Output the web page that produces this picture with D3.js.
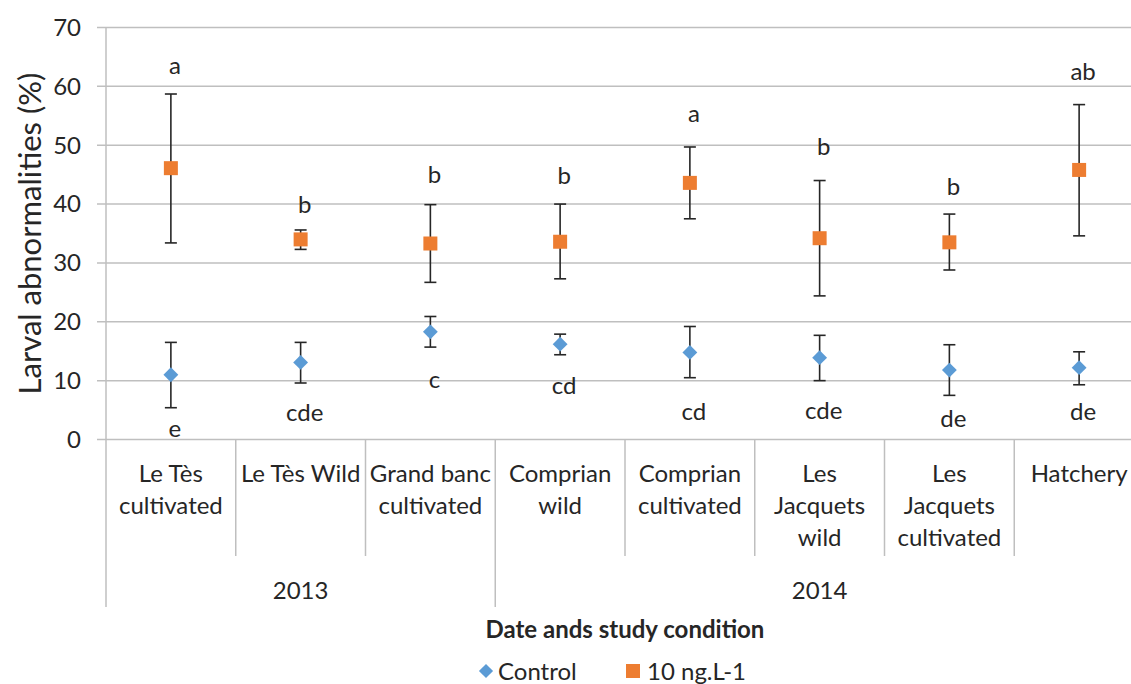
<!DOCTYPE html>
<html>
<head>
<meta charset="utf-8">
<script src="https://cdn.jsdelivr.net/npm/d3@7"></script>
<style>
  body { margin: 0; background: #fff; }
  text { font-family: Lato, "Open Sans", sans-serif; fill: #262626; }
</style>
</head>
<body>
<div class="chart"></div>
<script>
// categories (line breaks as in the original axis)
var categories = [
  "Le Tès\ncultivated", "Le Tès Wild", "Grand banc\ncultivated", "Comprian\nwild",
  "Comprian\ncultivated", "Les\nJacquets\nwild", "Les\nJacquets\ncultivated", "Hatchery"
];
var years = ["2013", "2014"];
var yearCounts = [3, 5];

var yTicks = [0, 10, 20, 30, 40, 50, 60, 70];

// Control series
var controlMean = [11.0, 13.1, 18.3, 16.2, 14.8, 13.9, 11.8, 12.2];
var controlHigh = [16.5, 16.5, 20.9, 17.9, 19.2, 17.7, 16.1, 14.9];
var controlLow  = [5.4, 9.6, 15.7, 14.4, 10.5, 10.0, 7.5, 9.3];
var controlLetters = ["e", "cde", "c", "cd", "cd", "cde", "de", "de"];
var controlLetterAt = [0.4, 3.1, 8.7, 7.7, 3.3, 3.5, 2.2, 3.3];

// 10 ng.L-1 series
var treatMean = [46.1, 34.0, 33.3, 33.6, 43.6, 34.2, 33.5, 45.8];
var treatHigh = [58.7, 35.6, 39.9, 40.0, 49.7, 44.0, 38.3, 56.9];
var treatLow  = [33.4, 32.3, 26.7, 27.3, 37.5, 24.4, 28.8, 34.6];
var treatLetters = ["a", "b", "b", "b", "a", "b", "b", "ab"];
var treatLetterAt = [62.1, 38.4, 43.6, 43.4, 53.9, 48.3, 41.5, 61.1];

var W = 1131, H = 684;
var svg = d3.select(".chart").append("svg")
  .attr("width", W).attr("height", H);

var x = d3.scaleBand().domain(d3.range(categories.length)).range([106, 1144]);
var y = d3.scaleLinear().domain([0, 70]).range([439.5, 27.5]);

var gridColor = "#bfbfbf";
var fs = "24px";

// gridlines
svg.append("g").selectAll("line").data(yTicks).enter().append("line")
  .attr("x1", 97).attr("x2", W)
  .attr("y1", d => y(d)).attr("y2", d => y(d))
  .attr("stroke", gridColor).attr("stroke-width", 1.5);

// y axis line + labels
svg.append("line").attr("x1", 106).attr("x2", 106)
  .attr("y1", y(70)).attr("y2", 607)
  .attr("stroke", gridColor).attr("stroke-width", 1.5);

svg.append("g").selectAll("text").data(yTicks).enter().append("text")
  .attr("x", 81).attr("y", d => y(d))
  .attr("dy", "0.35em").attr("text-anchor", "end")
  .style("font-size", fs)
  .text(d => d);

svg.append("text")
  .attr("transform", "translate(41," + y(35) + ") rotate(-90)")
  .attr("text-anchor", "middle")
  .style("font-size", "31px")
  .text("Larval abnormalities (%)");

// category separators
var cuts = d3.range(1, categories.length);
svg.append("g").selectAll("line").data(cuts).enter().append("line")
  .attr("x1", d => x(d)).attr("x2", d => x(d))
  .attr("y1", y(0)).attr("y2", d => d === yearCounts[0] ? 607 : 556)
  .attr("stroke", gridColor).attr("stroke-width", 1.5);

// category labels
var catG = svg.append("g").selectAll("text").data(categories).enter().append("text")
  .attr("text-anchor", "middle")
  .style("font-size", fs);
catG.each(function(d, i) {
  var t = d3.select(this);
  d.split("\n").forEach(function(line, k) {
    t.append("tspan")
      .attr("x", x(i) + x.bandwidth() / 2)
      .attr("y", 482 + k * 32)
      .text(line);
  });
});

// year labels
var start = 0;
years.forEach(function(yr, j) {
  var a = x(start), b = x(start + yearCounts[j] - 1) + x.bandwidth();
  svg.append("text")
    .attr("x", (a + b) / 2).attr("y", 599)
    .attr("text-anchor", "middle")
    .style("font-size", fs)
    .text(yr);
  start += yearCounts[j];
});

svg.append("text")
  .attr("x", 625).attr("y", 638)
  .attr("text-anchor", "middle")
  .style("font-size", "24px").style("font-weight", "bold")
  .text("Date ands study condition");

// error bars
function errorBars(low, high) {
  var g = svg.append("g").attr("stroke", "#262626").attr("stroke-width", 1.6);
  var cx = i => x(i) + x.bandwidth() / 2;
  g.selectAll(".v").data(low).enter().append("line")
    .attr("x1", (d, i) => cx(i)).attr("x2", (d, i) => cx(i))
    .attr("y1", d => y(d)).attr("y2", (d, i) => y(high[i]));
  [low, high].forEach(function(arr) {
    g.selectAll(null).data(arr).enter().append("line")
      .attr("x1", (d, i) => cx(i) - 6).attr("x2", (d, i) => cx(i) + 6)
      .attr("y1", d => y(d)).attr("y2", d => y(d));
  });
}
errorBars(controlLow, controlHigh);
errorBars(treatLow, treatHigh);

var blue = "#5b9bd5", orange = "#ed7d31";
var cx = i => x(i) + x.bandwidth() / 2;

svg.append("g").selectAll("path").data(controlMean).enter().append("path")
  .attr("d", d3.symbol(d3.symbolSquare, 110))
  .attr("transform", (d, i) => "translate(" + cx(i) + "," + y(d) + ") rotate(45)")
  .attr("fill", blue);

svg.append("g").selectAll("rect").data(treatMean).enter().append("rect")
  .attr("x", (d, i) => cx(i) - 7).attr("y", d => y(d) - 7)
  .attr("width", 14).attr("height", 14)
  .attr("fill", orange);

// significance letters
svg.append("g").selectAll("text").data(treatLetters).enter().append("text")
  .attr("x", (d, i) => cx(i) + 4).attr("y", (d, i) => y(treatLetterAt[i]))
  .attr("text-anchor", "middle").style("font-size", fs)
  .text(d => d);
svg.append("g").selectAll("text").data(controlLetters).enter().append("text")
  .attr("x", (d, i) => cx(i) + 4).attr("y", (d, i) => y(controlLetterAt[i]))
  .attr("text-anchor", "middle").style("font-size", fs)
  .text(d => d);

// legend
var leg = svg.append("g");
leg.append("path")
  .attr("d", d3.symbol(d3.symbolSquare, 100))
  .attr("transform", "translate(486,671) rotate(45)")
  .attr("fill", blue);
leg.append("text").attr("x", 498).attr("y", 680).style("font-size", fs).text("Control");
leg.append("rect").attr("x", 626).attr("y", 664).attr("width", 14).attr("height", 14).attr("fill", orange);
leg.append("text").attr("x", 647).attr("y", 680).style("font-size", fs).text("10 ng.L-1");
</script>
</body>
</html>
